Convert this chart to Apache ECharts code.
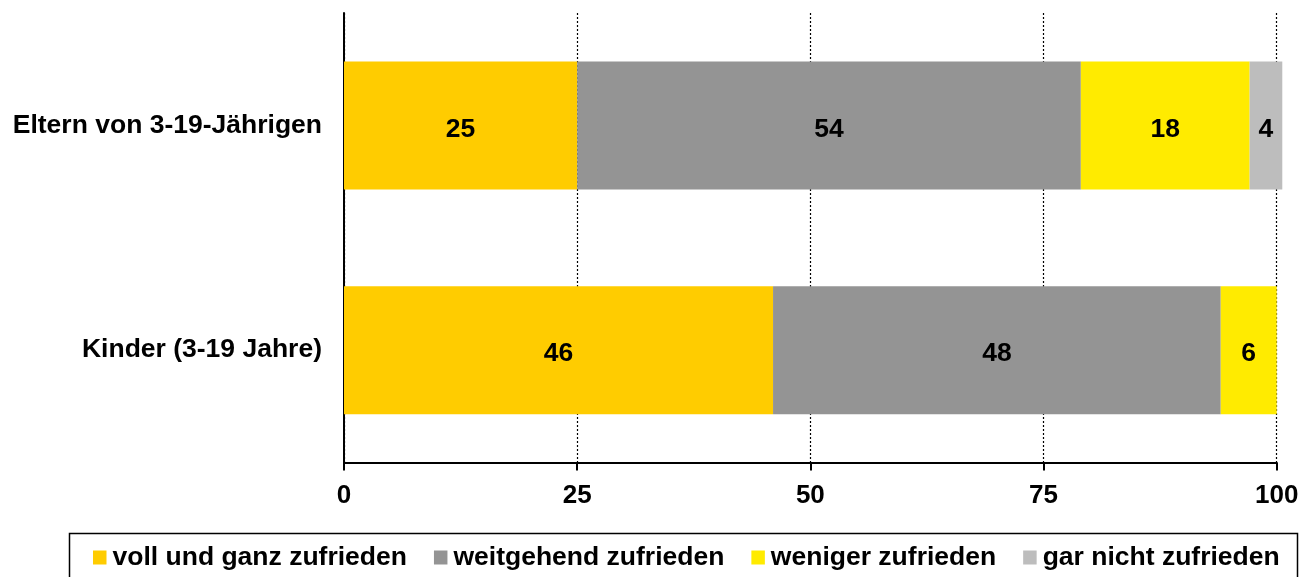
<!DOCTYPE html>
<html>
<head>
<meta charset="utf-8">
<script src="https://cdn.jsdelivr.net/npm/echarts@6/dist/echarts.min.js"></script>
<style>html,body{margin:0;padding:0;background:#fff;}#c{width:1300px;height:577px;}</style>
</head>
<body>
<div id="c"></div>
<script>
// Categories (top to bottom)
var categories = ['Eltern von 3-19-Jährigen', 'Kinder (3-19 Jahre)'];
var seriesNames = ['voll und ganz zufrieden', 'weitgehend zufrieden', 'weniger zufrieden', 'gar nicht zufrieden'];
// Values per series, in category order
var vollUndGanz = [25, 46];
var weitgehend = [54, 48];
var weniger = [18.1, 6];
var garNicht = [3.5, null];
var xTicks = [0, 25, 50, 75, 100];
var colors = ['#FFCC00', '#949494', '#FFEB00', '#BDBDBD'];

var font = '"Liberation Sans", Arial, sans-serif';
var allData = [vollUndGanz, weitgehend, weniger, garNicht];

var chart = echarts.init(document.getElementById('c'), null, {renderer: 'canvas'});
var series = allData.map(function (d, i) {
  return {
    name: seriesNames[i],
    type: 'bar',
    stack: 'total',
    data: d,
    barWidth: 128,
    clip: false,
    itemStyle: {color: colors[i]},
    label: {
      show: true,
      position: 'inside',
      offset: [0, 4],
      color: '#000',
      fontFamily: font,
      fontWeight: 'bold',
      fontSize: 26.5,
      formatter: function (p) { return p.value == null ? '' : Math.round(p.value); }
    }
  };
});

chart.setOption({
  animation: false,
  backgroundColor: '#fff',
  grid: {left: 344, right: 23.3, top: 13, bottom: 114.5, containLabel: false, outerBoundsMode: 'none'},
  xAxis: {
    type: 'value',
    min: xTicks[0],
    max: xTicks[xTicks.length - 1],
    interval: 25,
    axisLine: {show: true, lineStyle: {color: '#000', width: 2}},
    axisTick: {show: true, length: 8, lineStyle: {color: '#000', width: 2}},
    axisLabel: {color: '#000', fontFamily: font, fontWeight: 'bold', fontSize: 26, margin: 20},
    splitLine: {show: true, lineStyle: {color: '#000', width: 1.2, type: [2, 2]}}
  },
  yAxis: {
    type: 'category',
    inverse: true,
    data: categories,
    axisLine: {show: true, lineStyle: {color: '#000', width: 2}},
    axisTick: {show: false},
    axisLabel: {color: '#000', fontFamily: font, fontWeight: 'bold', fontSize: 26.5, margin: 22, padding: [8, 0, 0, 0]}
  },
  legend: {
    show: true,
    left: 93,
    top: 544,
    padding: 0,
    itemWidth: 13.5,
    itemHeight: 14,
    itemGap: 27,
    icon: 'rect',
    textStyle: {color: '#000', fontFamily: font, fontWeight: 'bold', fontSize: 26.5, padding: [0, 0, 0, 1]},
    data: seriesNames
  },
  graphic: [{
    type: 'rect',
    left: 67,
    top: 531,
    shape: {width: 1228, height: 80},
    style: {fill: 'none', stroke: '#000', lineWidth: 1.5},
    silent: true,
    z: -1
  }],
  series: series
});
</script>
</body>
</html>
